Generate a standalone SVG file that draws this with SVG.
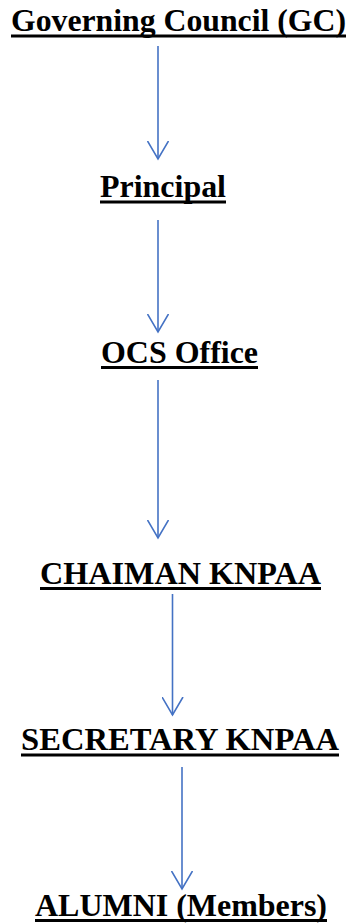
<svg xmlns="http://www.w3.org/2000/svg" width="351" height="923" viewBox="0 0 351 923">
  <style>
    .lbl { font-family: "Liberation Serif", serif; font-weight: bold; font-size: 32px; fill: #000; }
    .conn { stroke: #4472C4; stroke-width: 1.6; fill: none; marker-end: url(#arr); }
    .ul { fill: #000; }
  </style>
  <defs>
    <marker id="arr" markerUnits="userSpaceOnUse" viewBox="0 -11 20 22" markerWidth="20" markerHeight="22" refX="18.5" refY="0" orient="auto">
      <path d="M0.5,-10.5 L18.5,0 L0.5,10.5" fill="none" stroke="#4472C4" stroke-width="1.6"/>
    </marker>
  </defs>
  <rect width="351" height="923" fill="#fff"/>
  <g id="connectors">
    <line class="conn" x1="158" y1="46" x2="158" y2="159"/>
    <line class="conn" x1="158" y1="220" x2="158" y2="332"/>
    <line class="conn" x1="158" y1="380" x2="158" y2="538"/>
    <line class="conn" x1="172.5" y1="594" x2="172.5" y2="715"/>
    <line class="conn" x1="182" y1="767" x2="182" y2="889"/>
  </g>
  <g id="gc"><text class="lbl" x="11" y="31" textLength="335" lengthAdjust="spacingAndGlyphs">Governing Council (GC)</text><rect class="ul" x="11" y="34.5" width="335" height="3"/></g>
  <g id="principal"><text class="lbl" x="100" y="197" textLength="126" lengthAdjust="spacingAndGlyphs">Principal</text><rect class="ul" x="100" y="200.5" width="126" height="3"/></g>
  <g id="ocs"><text class="lbl" x="101" y="362.5" textLength="157" lengthAdjust="spacingAndGlyphs">OCS Office</text><rect class="ul" x="101" y="366" width="157" height="3"/></g>
  <g id="chairman"><text class="lbl" x="40" y="583.5" textLength="281" lengthAdjust="spacingAndGlyphs">CHAIMAN KNPAA</text><rect class="ul" x="40" y="587" width="281" height="3"/></g>
  <g id="secretary"><text class="lbl" x="21" y="750" textLength="318" lengthAdjust="spacingAndGlyphs">SECRETARY KNPAA</text><rect class="ul" x="21" y="753.5" width="318" height="3"/></g>
  <g id="alumni"><text class="lbl" x="35" y="915.5" textLength="292" lengthAdjust="spacingAndGlyphs">ALUMNI (Members)</text><rect class="ul" x="35" y="919" width="292" height="3"/></g>
</svg>
